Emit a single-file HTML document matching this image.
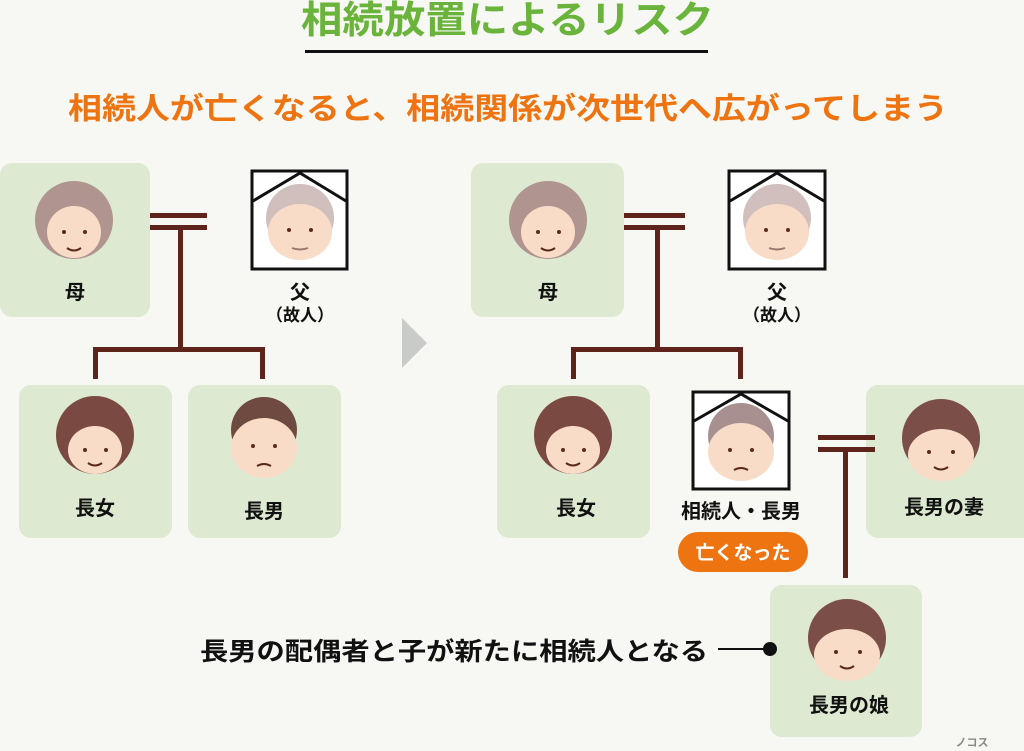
<!DOCTYPE html>
<html><head><meta charset="utf-8"><style>
html,body{margin:0;padding:0;background:#f7f8f3;}
svg{display:block}
text{font-family:"Liberation Sans","Noto Sans CJK JP",sans-serif;font-weight:bold;}
</style></head><body>
<svg width="1024" height="751" viewBox="0 0 1024 751" xmlns="http://www.w3.org/2000/svg">
<rect width="1024" height="751" fill="#f7f8f3"/>
<text x="301" y="33" font-size="38" fill="#6ab43c" textLength="413" lengthAdjust="spacingAndGlyphs">相続放置によるリスク</text>
<rect x="305" y="50" width="403" height="3" fill="#111"/>
<text x="68" y="119" font-size="30" fill="#ee7311" textLength="880" lengthAdjust="spacingAndGlyphs">相続人が亡くなると、相続関係が次世代へ広がってしまう</text>

<g fill="#dde9d1">
<rect x="0" y="163" width="150" height="154" rx="12"/>
<rect x="19" y="385" width="153" height="153" rx="12"/>
<rect x="188" y="385" width="153" height="153" rx="12"/>
<rect x="471" y="163" width="153" height="154" rx="12"/>
<rect x="497" y="385" width="153" height="153" rx="12"/>
<rect x="866" y="385" width="170" height="153" rx="12"/>
<rect x="770" y="585" width="152" height="152" rx="12"/>
</g>

<g fill="#5e241c">
<rect x="150" y="213" width="57" height="5"/><rect x="150" y="225" width="57" height="5"/>
<rect x="178" y="225" width="5" height="125"/>
<rect x="93" y="347" width="172" height="5"/>
<rect x="93" y="347" width="5" height="32"/><rect x="260" y="347" width="5" height="32"/>
<rect x="624" y="213" width="61" height="5"/><rect x="624" y="225" width="61" height="5"/>
<rect x="655" y="225" width="5" height="125"/>
<rect x="571" y="347" width="172" height="5"/>
<rect x="571" y="347" width="5" height="32"/><rect x="738" y="347" width="5" height="32"/>
<rect x="818" y="435" width="57" height="5"/><rect x="818" y="447" width="57" height="5"/>
<rect x="843" y="447" width="5" height="131"/>
</g>

<polygon points="402,318 427,343 402,368" fill="#c9cbc9"/>

<g fill="#fff" stroke="#111" stroke-width="3">
<rect x="252" y="171" width="95" height="98"/>
<rect x="729" y="171" width="96" height="98"/>
<rect x="693" y="392" width="96" height="97"/>
</g>

<g>
<circle cx="74" cy="220" r="39" fill="#b09490"/><ellipse cx="74" cy="232" rx="27" ry="26" fill="#f9dcc8"/>
<circle cx="64" cy="232" r="2" fill="#5a2a20"/><circle cx="85" cy="232" r="2" fill="#5a2a20"/><path d="M67 248 q7 5 14 0" stroke="#5a2a20" stroke-width="2" fill="none"/>
<circle cx="548" cy="220" r="39" fill="#b09490"/><ellipse cx="548" cy="232" rx="27" ry="26" fill="#f9dcc8"/>
<circle cx="538" cy="232" r="2" fill="#5a2a20"/><circle cx="559" cy="232" r="2" fill="#5a2a20"/><path d="M541 248 q7 5 14 0" stroke="#5a2a20" stroke-width="2" fill="none"/>
<circle cx="300" cy="218" r="34" fill="#d0bfbd"/><ellipse cx="300" cy="232" rx="32" ry="28" fill="#f9dcc8"/>
<circle cx="289" cy="230" r="2" fill="#5a2a20"/><circle cx="311" cy="230" r="2" fill="#5a2a20"/><path d="M292 248 q8 3 16 0" stroke="#9a7a70" stroke-width="2" fill="none"/>
<circle cx="777" cy="218" r="34" fill="#d0bfbd"/><ellipse cx="777" cy="232" rx="32" ry="28" fill="#f9dcc8"/>
<circle cx="766" cy="230" r="2" fill="#5a2a20"/><circle cx="788" cy="230" r="2" fill="#5a2a20"/><path d="M769 248 q8 3 16 0" stroke="#9a7a70" stroke-width="2" fill="none"/>
<circle cx="95" cy="435" r="39" fill="#7a4a42"/><ellipse cx="95" cy="450" rx="27" ry="24" fill="#f9dcc8"/>
<circle cx="85" cy="450" r="2" fill="#5a2a20"/><circle cx="106" cy="450" r="2" fill="#5a2a20"/><path d="M88 463 q7 5 14 0" stroke="#5a2a20" stroke-width="2" fill="none"/>
<circle cx="573" cy="435" r="39" fill="#7a4a42"/><ellipse cx="573" cy="450" rx="27" ry="24" fill="#f9dcc8"/>
<circle cx="563" cy="450" r="2" fill="#5a2a20"/><circle cx="584" cy="450" r="2" fill="#5a2a20"/><path d="M566 463 q7 5 14 0" stroke="#5a2a20" stroke-width="2" fill="none"/>
<circle cx="264" cy="430" r="33" fill="#6e4a40"/><ellipse cx="264" cy="448" rx="33" ry="30" fill="#f9dcc8"/>
<circle cx="253" cy="446" r="2" fill="#5a2a20"/><circle cx="275" cy="446" r="2" fill="#5a2a20"/><path d="M257 466 q7 -4 14 0" stroke="#5a2a20" stroke-width="2" fill="none"/>
<circle cx="741" cy="436" r="33" fill="#a89090"/><ellipse cx="741" cy="452" rx="33" ry="29" fill="#f9dcc8"/>
<circle cx="730" cy="450" r="2" fill="#5a2a20"/><circle cx="752" cy="450" r="2" fill="#5a2a20"/><path d="M734 470 q7 -4 14 0" stroke="#5a2a20" stroke-width="2" fill="none"/>
<circle cx="941" cy="438" r="39" fill="#7c4e48"/><ellipse cx="941" cy="455" rx="33" ry="26" fill="#f9dcc8"/>
<circle cx="929" cy="452" r="2" fill="#5a2a20"/><circle cx="953" cy="452" r="2" fill="#5a2a20"/><path d="M934 467 q7 5 14 0" stroke="#5a2a20" stroke-width="2" fill="none"/>
<circle cx="847" cy="638" r="39" fill="#7c4e48"/><ellipse cx="847" cy="655" rx="33" ry="26" fill="#f9dcc8"/>
<circle cx="836" cy="652" r="2" fill="#5a2a20"/><circle cx="860" cy="652" r="2" fill="#5a2a20"/><path d="M840 666 q7 5 14 0" stroke="#5a2a20" stroke-width="2" fill="none"/>
</g>

<g stroke="#111" stroke-width="3" fill="none">
<path d="M253 201 L300 173 L346 201"/>
<path d="M730 201 L777 173 L824 201"/>
<path d="M694 421 L741 394 L788 421"/>
</g>

<g font-size="20" fill="#111" text-anchor="middle">
<text x="75" y="299">母</text>
<text x="300" y="299">父</text>
<text x="300" y="321" font-size="17" font-weight="normal">（故人）</text>
<text x="95" y="515">長女</text>
<text x="264" y="518">長男</text>
<text x="548" y="299">母</text>
<text x="777" y="299">父</text>
<text x="777" y="321" font-size="17" font-weight="normal">（故人）</text>
<text x="576" y="515">長女</text>
<text x="741" y="518">相続人・長男</text>
<text x="944" y="514">長男の妻</text>
<text x="849" y="712">長男の娘</text>
</g>
<rect x="678" y="532" width="130" height="40" rx="20" fill="#ee7311"/>
<text x="743" y="559" text-anchor="middle" font-size="19" fill="#fff">亡くなった</text>

<text x="200" y="660" font-size="25" fill="#111" textLength="508" lengthAdjust="spacingAndGlyphs">長男の配偶者と子が新たに相続人となる</text>
<rect x="718" y="648" width="48" height="2" fill="#111"/>
<circle cx="770" cy="649" r="7" fill="#111"/>
<text x="972" y="746" text-anchor="middle" font-size="11" font-weight="normal" fill="#888">ノコス</text>
</svg>
</body></html>
